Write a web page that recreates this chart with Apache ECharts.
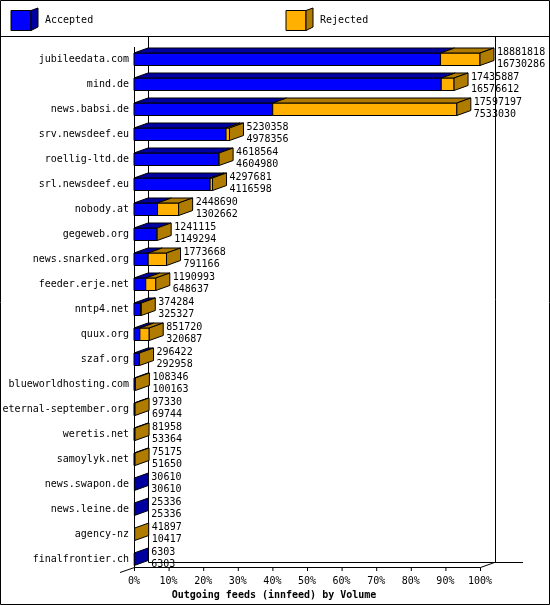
<!DOCTYPE html>
<html>
<head>
<meta charset="utf-8">
<script src="https://cdn.jsdelivr.net/npm/echarts@6/dist/echarts.min.js"></script>
<style>html,body{margin:0;padding:0;background:#fff}#main{width:550px;height:605px}</style>
</head>
<body>
<div id="main"></div>
<script>
// feeds, top to bottom
var feeds = ['jubileedata.com', 'mind.de', 'news.babsi.de', 'srv.newsdeef.eu', 'roellig-ltd.de', 'srl.newsdeef.eu',
  'nobody.at', 'gegeweb.org', 'news.snarked.org', 'feeder.erje.net', 'nntp4.net', 'quux.org', 'szaf.org',
  'blueworldhosting.com', 'eternal-september.org', 'weretis.net', 'samoylyk.net', 'news.swapon.de',
  'news.leine.de', 'agency-nz', 'finalfrontier.ch']
var offered = [18881818, 17435887, 17597197, 5230358, 4618564, 4297681, 2448690, 1241115, 1773668, 1190993,
  374284, 851720, 296422, 108346, 97330, 81958, 75175, 30610, 25336, 41897, 6303]
var accepted = [16730286, 16576612, 7533030, 4978356, 4604980, 4116598, 1302662, 1149294, 791166, 648637,
  325327, 320687, 292958, 100163, 69744, 53364, 51650, 30610, 25336, 10417, 6303]
// bar lengths in % of biggest volume
var accPct = [88.6, 88.8, 40.1, 26.6, 24.5, 22.0, 6.8, 6.6, 4.1, 3.4, 1.9, 1.7, 1.5, 0.3, 0.2, 0.2, 0.2, 0.1, 0.1, 0.1, 0.05]
var rejPct = [11.4, 3.7, 53.2, 1.0, 0.1, 0.7, 6.1, 0.1, 5.3, 2.9, 0.2, 2.7, 0.1, 0.1, 0.1, 0.1, 0.1, 0, 0, 0.1, 0]

var FONT = 'DejaVu Sans Mono'
var DX = 14, DY = -5
var BLUE = '#0000ff', BLUE_D = '#0000a0', ORG = '#ffb000', ORG_D = '#b07c00'

var data = feeds.map(function (f, i) {
  return [i, accPct[i], rejPct[i], offered[i], accepted[i]]
})

function poly(pts, fill) {
  return { type: 'polygon', shape: { points: pts }, style: { fill: fill, stroke: '#000', lineWidth: 1 } }
}

function renderBar(params, api) {
  var i = api.value(0), a = api.value(1), r = api.value(2)
  var c = api.coord([0, i])
  var y = c[1], top = y - 6, bot = y + 6.5
  var x0 = c[0], x1 = api.coord([a, i])[0], x2 = api.coord([a + r, i])[0]
  var kids = []
  if (x1 - x0 > 0.5) {
    kids.push(poly([[x0, top], [x1, top], [x1, bot], [x0, bot]], BLUE))
    kids.push(poly([[x0, top], [x0 + DX, top + DY], [x1 + DX, top + DY], [x1, top]], BLUE_D))
  }
  if (x2 - x1 > 0.5) {
    kids.push(poly([[x1, top], [x2, top], [x2, bot], [x1, bot]], ORG))
    kids.push(poly([[x1, top], [x1 + DX, top + DY], [x2 + DX, top + DY], [x2, top]], ORG_D))
  }
  var sideCol = api.value(3) !== api.value(4) ? ORG_D : BLUE_D
  kids.push(poly([[x2, top], [x2 + DX, top + DY], [x2 + DX, bot + DY], [x2, bot]], sideCol))
  kids.push({ type: 'text', style: { x: x2 + DX + 3, y: y - 1, text: String(api.value(3)) + '\n' + String(api.value(4)),
    font: '10px ' + FONT, fill: '#000', lineHeight: 12, verticalAlign: 'middle' } })
  return { type: 'group', children: kids }
}

function line(pts) {
  return { type: 'polyline', shape: { points: pts }, style: { stroke: '#000', lineWidth: 1, fill: null }, silent: true }
}
function legendBox(x, front, side, label) {
  return [
    { type: 'polygon', shape: { points: [[x, 10.5], [x + 20, 10.5], [x + 20, 30.5], [x, 30.5]] }, style: { fill: front, stroke: '#000' } },
    { type: 'polygon', shape: { points: [[x + 20, 10.5], [x + 27, 8], [x + 27, 27], [x + 20, 30.5]] }, style: { fill: side, stroke: '#000' } },
    { type: 'text', x: x + 34, y: 20, style: { text: label, font: '10px ' + FONT, fill: '#000', verticalAlign: 'middle' } }
  ]
}

var ticks = []
for (var t = 0; t <= 10; t++) {
  var tx = 134.5 + t * 34.6
  ticks.push(line([[tx, 567.5], [tx, 571]]))
}

var chart = echarts.init(document.getElementById('main'))
chart.setOption({
  animation: false,
  grid: { left: 134, right: 70, top: 46.5, bottom: 33.5, outerBoundsMode: 'none', containLabel: false },
  xAxis: { type: 'value', min: 0, max: 100, interval: 10,
    axisLine: { show: false }, axisTick: { show: false }, splitLine: { show: false },
    axisLabel: { formatter: '{value}%', fontFamily: FONT, fontSize: 10, color: '#000', margin: 5 } },
  yAxis: { type: 'category', data: feeds, inverse: true,
    axisLine: { show: false }, axisTick: { show: false },
    axisLabel: { fontFamily: FONT, fontSize: 10, color: '#000', margin: 5 } },
  series: [{ type: 'custom', renderItem: renderBar, data: data, clip: false }],
  graphic: [
    { type: 'rect', shape: { x: 0.5, y: 0.5, width: 549, height: 604 }, style: { fill: null, stroke: '#000' }, silent: true },
    line([[0, 36.5], [550, 36.5]]),
    line([[148.5, 37], [148.5, 562.5], [523, 562.5]]),
    line([[495.5, 37], [495.5, 562.5]]),
    line([[134.5, 47], [134.5, 567.5], [480.5, 567.5], [494.5, 562.5]]),
    line([[120, 572.5], [134.5, 567.5]]),
    { type: 'text', x: 274, y: 595, style: { text: 'Outgoing feeds (innfeed) by Volume', font: 'bold 10px ' + FONT,
      fill: '#000', align: 'center', verticalAlign: 'middle' } }
  ].concat(legendBox(11, BLUE, BLUE_D, 'Accepted'), legendBox(286, ORG, ORG_D, 'Rejected'), ticks)
})
</script>
</body>
</html>
